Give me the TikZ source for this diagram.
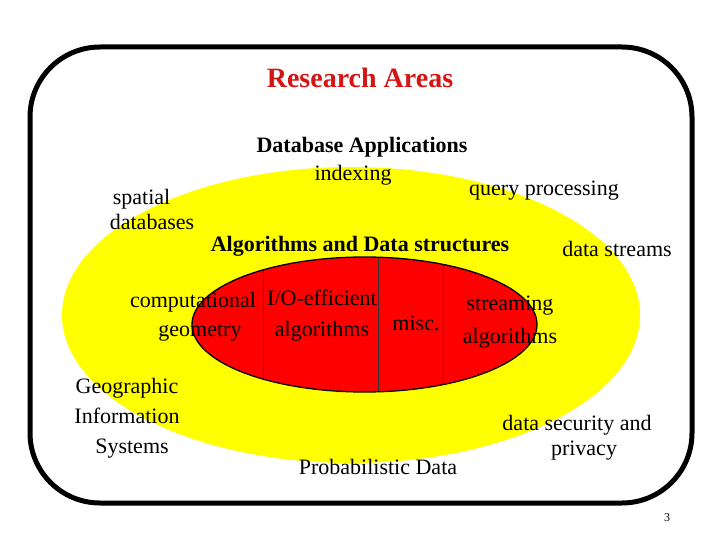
\documentclass[tikz,border=0pt]{standalone}
\usepackage{fontspec}
\setmainfont{Liberation Serif}
\definecolor{titlered}{RGB}{215,20,20}
\definecolor{ellred}{RGB}{255,0,0}
\definecolor{ellyellow}{RGB}{255,255,0}
\begin{document}
\begin{tikzpicture}[x=1pt,y=-1pt,
  lbl/.style={inner sep=0pt, align=center, font=\fontsize{22}{25}\selectfont},
  blbl/.style={inner sep=0pt, align=center, font=\fontsize{22}{26}\selectfont\bfseries}]
\useasboundingbox (0,0) rectangle (720,540);
% outer frame
\draw[line width=5pt, rounded corners=70pt] (30,47) rectangle (692,503);
% yellow ellipse
\fill[ellyellow] (351,315) ellipse [x radius=289, y radius=148];
% red ellipse
\fill[ellred] (364.5,324.5) ellipse [x radius=172.5, y radius=67.5];
\begin{scope}
  \clip (364.5,324.5) ellipse [x radius=172.5, y radius=67.5];
  \draw[line width=0.9pt, black!80] (263,250) -- (263,400);
  \draw[line width=0.9pt, black!80] (378,250) -- (378,400);
  \draw[line width=0.9pt, black!80] (443,250) -- (443,400);
\end{scope}
\draw[line width=1.3pt] (364.5,324.5) ellipse [x radius=172.5, y radius=67.5];
% texts
\node[inner sep=0pt, font=\fontsize{28}{30}\selectfont\bfseries, text=titlered] (title) at (360,78) {Research Areas};
\node[blbl] (dbapp) at (362,147) {Database Applications};
\node[lbl] (idx) at (353,175) {indexing};
\node[lbl] (qp) at (544,191) {query processing};
\node[lbl, align=left] (sdb) at (152,209) {\hspace*{3pt}spatial\\databases};
\node[blbl] (ads) at (360,246) {Algorithms and Data structures};
\node[lbl] (ds) at (617,249) {data streams};
\node[lbl, font=\fontsize{22}{29}\selectfont] (cg) at (193,317) {computational\\\hspace*{14pt}geometry};
\node[lbl, font=\fontsize{22}{31}\selectfont] (io) at (322,316) {I/O-efficient\\algorithms};
\node[lbl] (misc) at (416,323) {misc.};
\node[lbl, font=\fontsize{22}{33}\selectfont] (sa) at (510,322) {streaming\\algorithms};
\node[lbl, font=\fontsize{22}{30}\selectfont] (gis) at (127,418) {Geographic\\Information\\\hspace*{10pt}Systems};
\node[lbl] (pd) at (378,467) {Probabilistic Data};
\node[lbl] (sec) at (577,438) {data security and\\\hspace*{14pt}privacy};
\node[inner sep=0pt, font=\fontsize{12}{13}\selectfont] (pg) at (667,518) {3};
\end{tikzpicture}
\end{document}
